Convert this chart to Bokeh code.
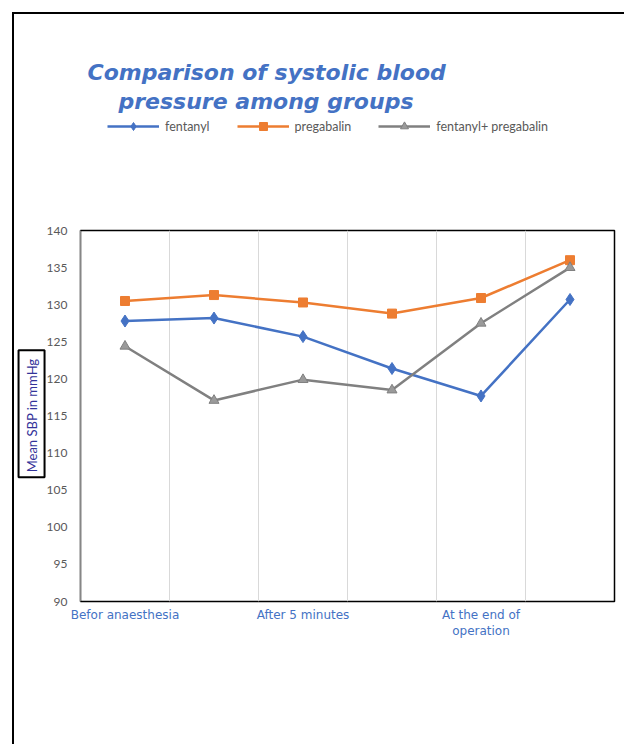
from math import pi
from bokeh.plotting import figure
from bokeh.layouts import column
from bokeh.models import FixedTicker, Legend, LegendItem, Range1d, Title, Label
from bokeh.embed import file_html
from bokeh.resources import INLINE

# ---- data ----
time_points = [1, 2, 3, 4, 5, 6]
tick_positions = [1, 3, 5]
tick_labels = ["Befor anaesthesia", "After 5 minutes", "At the end of\noperation"]
fentanyl = [127.8, 128.2, 125.7, 121.4, 117.7, 130.7]
pregabalin = [130.5, 131.3, 130.3, 128.8, 130.9, 136.0]
fentanyl_pregabalin = [124.4, 117.1, 119.9, 118.5, 127.5, 135.0]
y_ticks = [90, 95, 100, 105, 110, 115, 120, 125, 130, 135, 140]
series_names = ["fentanyl", "pregabalin", "fentanyl+ pregabalin"]
title_lines = ["Comparison of systolic blood", "pressure among groups"]
y_axis_title = "Mean  SBP in mmHg"

BLUE = "#4472C4"
ORANGE = "#ED7D31"
GRAY = "#808080"
TRI_FILL = "#9a9a9a"

series_styles = [
    dict(color=BLUE, marker="diamond", size=12, fill=BLUE),
    dict(color=ORANGE, marker="square", size=9, fill=ORANGE),
    dict(color=GRAY, marker="triangle", size=10, fill=TRI_FILL),
]
series_values = [fentanyl, pregabalin, fentanyl_pregabalin]

# ---------------- header: title + legend ----------------
head = figure(frame_width=534, frame_height=26, output_backend="svg", toolbar_location=None,
              x_range=Range1d(-1, 0), y_range=Range1d(0, 1),
              x_axis_type=None, y_axis_type=None,
              min_border_left=66, min_border_right=10, min_border_top=100, min_border_bottom=0,
              title=title_lines[0])
head.outline_line_color = None
head.background_fill_color = "white"
head.border_fill_color = "white"
head.xgrid.visible = False
head.ygrid.visible = False


def style_title(t, offset):
    t.text_font = "DejaVu Sans"
    t.text_font_style = "bold italic"
    t.text_font_size = "22px"
    t.text_color = BLUE
    t.align = "left"
    t.offset = offset
    t.standoff = 2


style_title(head.title, 7)
title2 = Title(text=title_lines[1])
style_title(title2, 38)
head.add_layout(title2, "above")

# legend renderers carry the series data; it lies outside the header's view,
# so only the legend glyphs are seen there
legend_items = []
for name, vals, st in zip(series_names, series_values, series_styles):
    lr = head.line(time_points, vals, line_color=st["color"], line_width=2.5)
    sr = head.scatter(time_points, vals, marker=st["marker"], size=st["size"] - 1,
                      fill_color=st["fill"], line_color=st["color"])
    legend_items.append(LegendItem(label=name, renderers=[lr, sr]))

legend = Legend(items=legend_items, orientation="horizontal", location=(27, 4),
                background_fill_alpha=0, border_line_color=None,
                padding=0, margin=0, spacing=27, glyph_width=52, glyph_height=20,
                label_standoff=6, label_height=20,
                label_text_font="Lato", label_text_font_size="12.5px", label_text_color="#595959")
head.add_layout(legend)

# ---------------- main chart ----------------
p = figure(frame_width=534, frame_height=371, output_backend="svg", toolbar_location=None,
           x_range=Range1d(0.5, 6.5), y_range=Range1d(90, 140),
           min_border_left=66, min_border_right=10, min_border_top=90, min_border_bottom=143,
           title=None)
p.background_fill_color = "white"
p.border_fill_color = "white"
p.outline_line_color = "black"
p.outline_line_width = 1.5

for vals, st in zip(series_values, series_styles):
    p.line(time_points, vals, line_color=st["color"], line_width=2.5)
    p.scatter(time_points, vals, marker=st["marker"], size=st["size"],
              fill_color=st["fill"], line_color=st["color"])

ylab = Label(x=-0.05, y=115.3, text=y_axis_title, angle=pi / 2,
             text_align="center", text_baseline="middle",
             text_font="Lato", text_font_size="13px", text_color="#333399",
             border_line_color="black", border_line_width=2,
             background_fill_color="white", padding=5)
p.add_layout(ylab, "left")

p.ygrid.visible = False
p.xgrid.ticker = FixedTicker(ticks=[1.5, 2.5, 3.5, 4.5, 5.5])
p.xgrid.grid_line_color = "#D9D9D9"
p.xgrid.grid_line_width = 1

xa = p.below[0]
xa.ticker = FixedTicker(ticks=tick_positions)
xa.major_label_overrides = dict(zip(tick_positions, tick_labels))
xa.major_tick_line_color = None
xa.minor_tick_line_color = None
xa.axis_line_color = None
xa.major_label_text_font = "DejaVu Sans"
xa.major_label_text_font_size = "12px"
xa.major_label_text_color = BLUE
xa.major_label_standoff = 0

ya = p.left[0]
ya.ticker = FixedTicker(ticks=y_ticks)
ya.major_tick_line_color = None
ya.minor_tick_line_color = None
ya.axis_line_color = "#868686"
ya.major_label_text_font = "Lato"
ya.major_label_text_font_size = "12px"
ya.major_label_text_color = "#595959"
ya.major_label_standoff = 7

layout = column(head, p, spacing=0, margin=(12, 0, 0, 12),
                styles={"border-left": "2px solid black", "border-top": "2px solid black",
                        "background-color": "white"})

open("out.html", "w").write(file_html(layout, INLINE))
